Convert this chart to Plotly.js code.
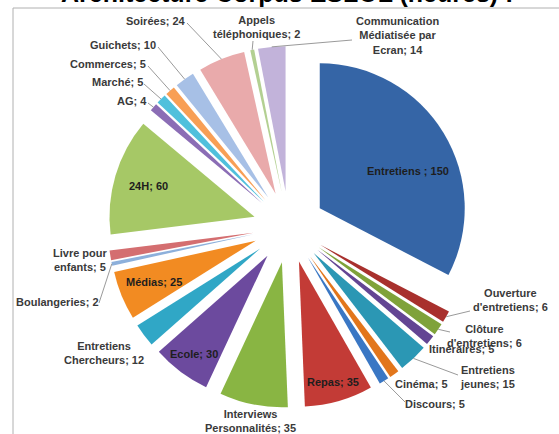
<!DOCTYPE html>
<html><head><meta charset="utf-8">
<script src="https://cdn.plot.ly/plotly-3.0.1.min.js"></script>
<style>html,body{margin:0;padding:0;background:#fff}#chart{width:559px;height:434px}</style>
</head><body><div id="chart"></div>
<script>
// ---- data ----
const categories = ["Entretiens", "Ouverture d'entretiens", "Clôture d'entretiens", "Itinéraires", "Entretiens jeunes",
  "Cinéma", "Discours", "Repas", "Interviews Personnalités", "Ecole", "Entretiens Chercheurs", "Médias",
  "Boulangeries", "Livre pour enfants", "24H", "AG", "Marché", "Commerces", "Guichets", "Soirées",
  "Appels téléphoniques", "Communication Médiatisée par Ecran"];
const hours = [150, 6, 6, 5, 15, 5, 5, 35, 35, 30, 12, 25, 2, 5, 60, 4, 5, 5, 10, 24, 2, 14];
const labelTexts = ["Entretiens ; 150", "Ouverture<br>d'entretiens; 6", "Clôture<br>d'entretiens; 6", "Itinéraires; 5",
  "Entretiens<br>jeunes; 15", "Cinéma; 5", "Discours; 5", "Repas; 35", "Interviews<br>Personnalités; 35",
  "Ecole; 30", "Entretiens<br>Chercheurs; 12", "Médias; 25", "Boulangeries; 2", "Livre pour<br>enfants; 5",
  "24H; 60", "AG; 4", "Marché; 5", "Commerces; 5", "Guichets; 10", "Soirées; 24",
  "Appels<br>téléphoniques; 2", "Communication<br>Médiatisée par<br>Ecran; 14"];
const titleText = "Architecture Corpus ESLOL (heures) :";

// ---- styles / layout ----
const colors = ["#3565a6", "#a8302d", "#7fa23a", "#634593", "#2b97b4", "#e2761c", "#3a77c4", "#c33b36",
  "#89b543", "#6c4a9e", "#30a7c6", "#f28b22", "#8db0db", "#d46e70", "#a6c866", "#8b6db5", "#50c0dc",
  "#f89f55", "#a7c0e6", "#e9aaab", "#b3d092", "#c2b3da"];
const W = 559, H = 434;
const CX = 289, CY = 227, R = 145, PULL = 0.248;
const half = R * (1 + PULL);
const px = x => x / W, py = y => 1 - y / H;

// inside labels: radial distance (px from centre) and angle offset (deg)
const insideStyle = {"Entretiens": [132, 6], "Repas": [161, 0], "Ecole": [158, 0], "Médias": [146, 0], "24H": [146, 0]};
// outside labels: text centre (px) and leader anchor (px) or null
const outsideStyle = {
  "Soirées": [156, 21, [187, 23]],
  "Appels téléphoniques": [256, 27, [253, 41]],
  "Communication Médiatisée par Ecran": [397, 36, [352, 40]],
  "Guichets": [123, 45, [158, 47]],
  "Commerces": [108, 64, [148, 66]],
  "Marché": [117, 82, [144, 84]],
  "AG": [132, 101, [148, 103]],
  "Livre pour enfants": [80, 260, null],
  "Boulangeries": [57, 302, [99, 303]],
  "Entretiens Chercheurs": [104, 353, null],
  "Interviews Personnalités": [250, 421, null],
  "Cinéma": [421, 384, null],
  "Discours": [435, 404, [405, 402]],
  "Entretiens jeunes": [487, 377, [458, 375]],
  "Ouverture d'entretiens": [510, 300, [470, 311]],
  "Clôture d'entretiens": [484, 336, [450, 332]],
  "Itinéraires": [461, 349, null]
};

const total = hours.reduce((a, b) => a + b, 0);
let cum = 0;
const annotations = [], shapes = [];
const labelFont = {family: "Liberation Sans, Arial, sans-serif", size: 11, color: "#3a3a3a"};
categories.forEach((c, i) => {
  const a0 = cum / total * 360; cum += hours[i];
  const a1 = cum / total * 360;
  const mid = (a0 + a1) / 2;
  if (insideStyle[c]) {
    const [d, off] = insideStyle[c];
    const t = (mid + off) * Math.PI / 180;
    annotations.push({x: px(CX + d * Math.sin(t)), y: py(CY - d * Math.cos(t)), xref: "paper", yref: "paper",
      text: "<b>" + labelTexts[i] + "</b>", showarrow: false, xanchor: "center", yanchor: "middle",
      font: Object.assign({}, labelFont, {color: "#1e1e1e"})});
  } else {
    const [lx, ly, anc] = outsideStyle[c];
    annotations.push({x: px(lx), y: py(ly), xref: "paper", yref: "paper",
      text: "<b>" + labelTexts[i] + "</b>", showarrow: false, xanchor: "center", yanchor: "middle", font: labelFont});
    if (anc) {
      const t = mid * Math.PI / 180, rr = R * (1 + PULL);
      const sx = CX + rr * Math.sin(t), sy = CY - rr * Math.cos(t);
      shapes.push({type: "line", xref: "paper", yref: "paper", x0: px(sx), y0: py(sy), x1: px(anc[0]), y1: py(anc[1]),
        line: {color: "#9a9a9a", width: 1}});
    }
  }
});
// chart title (partly cut off at the top edge, as in the reference)
annotations.push({x: px(287), y: py(-7), xref: "paper", yref: "paper", text: "<b>" + titleText + "</b>",
  showarrow: false, xanchor: "center", yanchor: "middle",
  font: {family: "Liberation Sans, Arial, sans-serif", size: 25, color: "#000"}});
shapes.push({type: "rect", xref: "paper", yref: "paper", layer: "below", x0: px(13), x1: 1.2, y0: -0.2, y1: py(8),
  line: {color: "#b0b0b0", width: 1}, fillcolor: "rgba(0,0,0,0)"});

const trace = {
  type: "pie", labels: categories, values: hours, sort: false, direction: "clockwise", rotation: 0,
  pull: hours.map(() => PULL), marker: {colors: colors, line: {width: 0}},
  textinfo: "none", hoverinfo: "label+value",
  domain: {x: [px(CX - 230), px(CX + 230)], y: [py(CY + half), py(CY - half)]}
};
const layout = {
  width: W, height: H, margin: {l: 0, r: 0, t: 0, b: 0}, showlegend: false,
  paper_bgcolor: "#ffffff",
  annotations: annotations, shapes: shapes
};
Plotly.newPlot("chart", [trace], layout, {displayModeBar: false, staticPlot: true});
</script></body></html>
